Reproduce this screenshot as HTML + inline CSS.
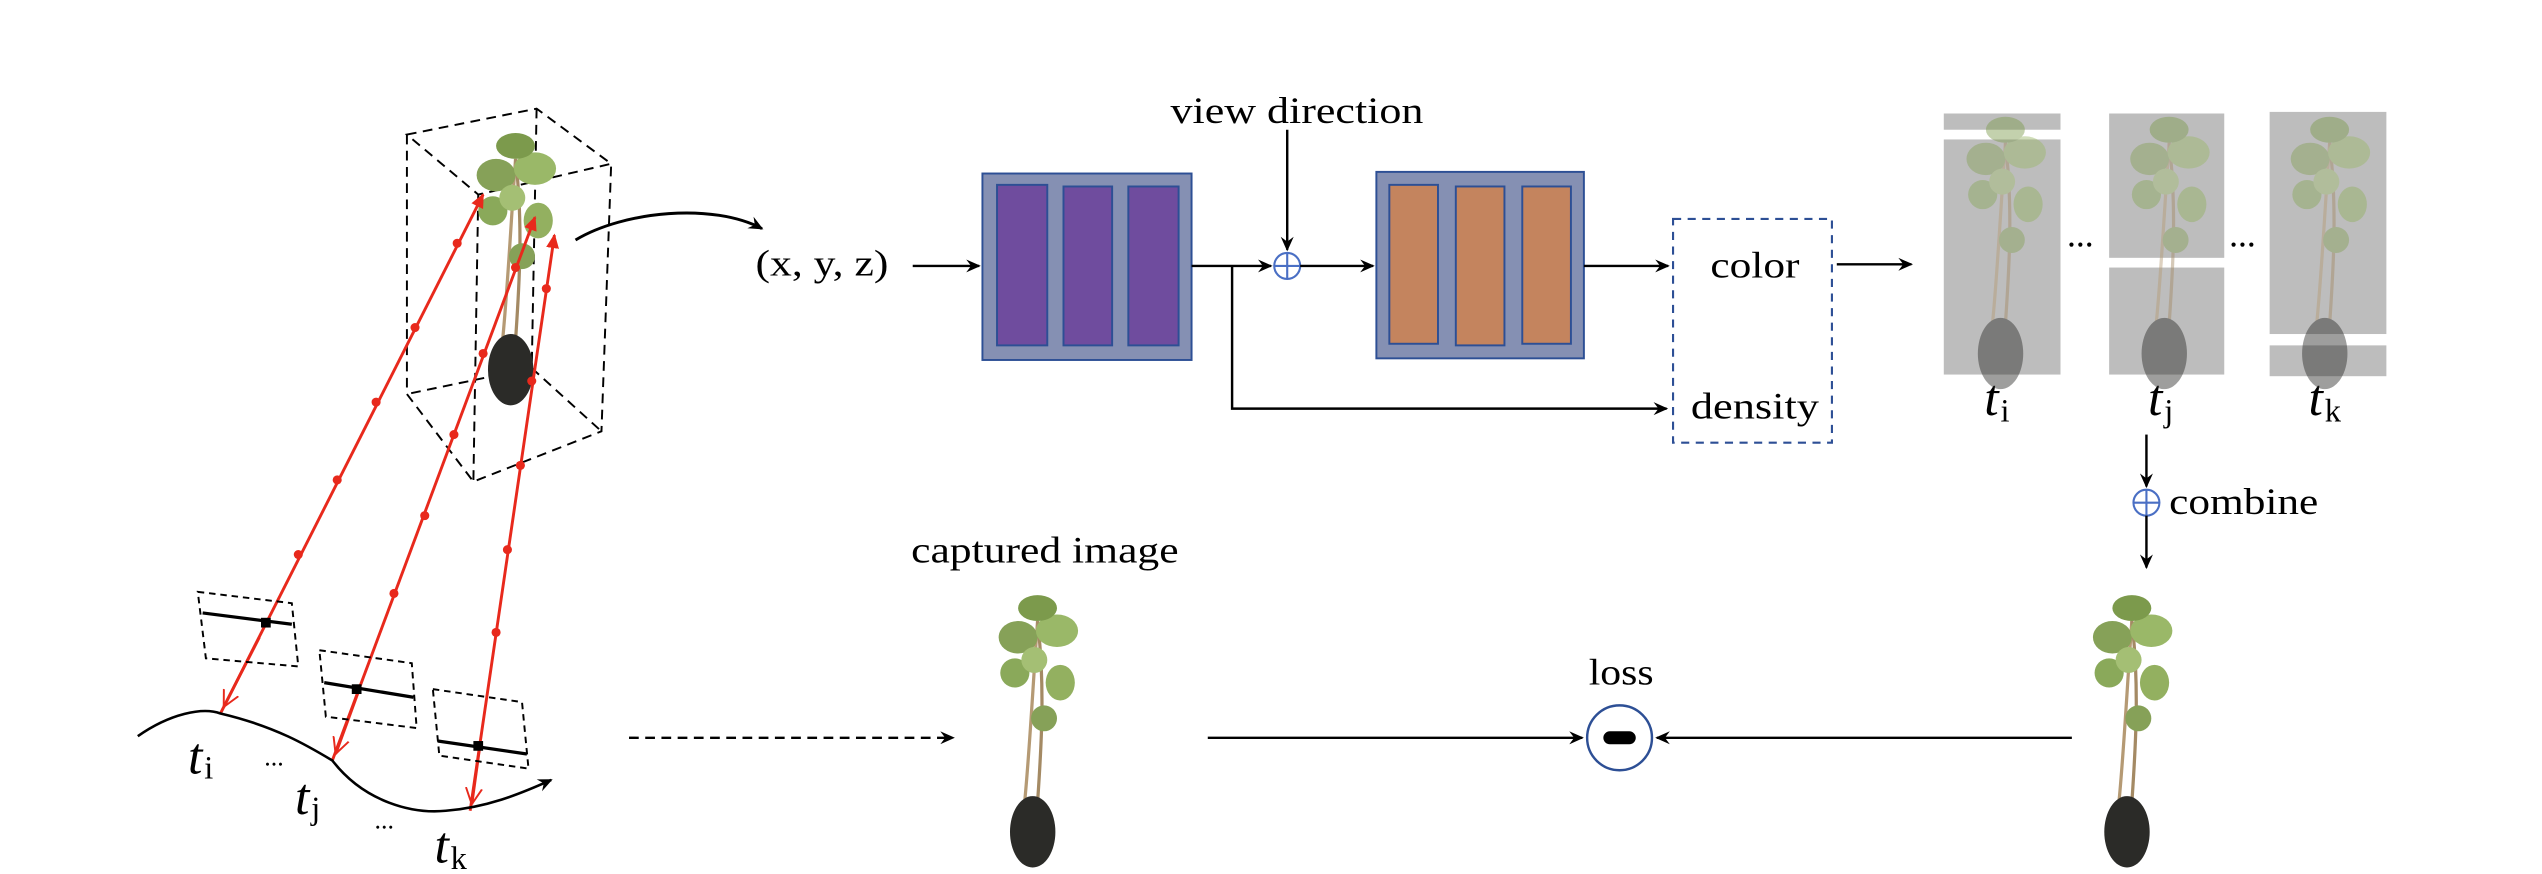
<!DOCTYPE html>
<html><head><meta charset="utf-8"><style>html,body{margin:0;padding:0;background:#fff}svg{display:block}</style></head>
<body>
<svg width="2542" height="874" viewBox="0 0 1568 539" preserveAspectRatio="none" xmlns="http://www.w3.org/2000/svg" font-family="Liberation Serif, serif">
<defs>
<marker id="ah" markerWidth="10" markerHeight="10" refX="8" refY="5" orient="auto" markerUnits="userSpaceOnUse"><path d="M0,1 L9,5 L0,9 L3,5 Z" fill="#000"/></marker>
<marker id="rh" markerWidth="10" markerHeight="10" refX="8" refY="5" orient="auto" markerUnits="userSpaceOnUse"><path d="M0,1 L9,5 L0,9 Z" fill="#e8291c"/></marker>
<marker id="ro" markerWidth="12" markerHeight="12" refX="10" refY="6" orient="auto" markerUnits="userSpaceOnUse"><path d="M0,1 L10,6 L0,11" fill="none" stroke="#e8291c" stroke-width="1.2"/></marker>
<g id="plant">
 <path d="M0,-2 C-3,40 -5,80 -8,110" stroke="#b59a74" stroke-width="2" fill="none"/>
 <path d="M0,-2 C5,40 2,80 0,110" stroke="#a48a64" stroke-width="2" fill="none"/>
 <ellipse cx="-12" cy="8" rx="12" ry="10" fill="#86a158"/>
 <ellipse cx="12" cy="4" rx="13" ry="10" fill="#9ab868"/>
 <ellipse cx="0" cy="-10" rx="12" ry="8" fill="#7c9a4c"/>
 <ellipse cx="-14" cy="30" rx="9" ry="9" fill="#8aa95a"/>
 <ellipse cx="14" cy="36" rx="9" ry="11" fill="#93b060"/>
 <ellipse cx="-2" cy="22" rx="8" ry="8" fill="#a4bf74"/>
 <ellipse cx="4" cy="58" rx="8" ry="8" fill="#86a158"/>
 <ellipse cx="-3" cy="128" rx="14" ry="22" fill="#2b2b28"/>
</g>
</defs>

<!-- cube -->
<g stroke="#000" stroke-width="1.2" stroke-dasharray="6,4" fill="none">
<path d="M251,83 L331,67 L377,101 L295,120 Z"/>
<path d="M251,83 L251,243 L292,297 L371,266 L377,101"/>
<path d="M295,120 L292,297"/>
<path d="M331,67 L328,227 L251,243"/>
<path d="M328,227 L371,266"/>
</g>
<use href="#plant" x="318" y="100"/>

<!-- rays -->
<g stroke="#e8291c" stroke-width="1.8" fill="#e8291c">
<line x1="136" y1="440" x2="298" y2="120" marker-end="url(#rh)"/>
<line x1="205" y1="469" x2="330" y2="134" marker-end="url(#rh)"/>
<line x1="290" y1="500" x2="342" y2="145" marker-end="url(#rh)"/>
</g>
<g stroke="#e8291c" stroke-width="1.8" fill="none">
<line x1="160" y1="393" x2="138" y2="436" marker-end="url(#ro)"/>
<line x1="222" y1="424" x2="207" y2="465" marker-end="url(#ro)"/>
<line x1="296" y1="460" x2="291" y2="496" marker-end="url(#ro)"/>
</g>
<g fill="#e8291c">
<circle cx="282" cy="150" r="2.8"/><circle cx="256" cy="202" r="2.8"/><circle cx="232" cy="248" r="2.8"/><circle cx="208" cy="296" r="2.8"/><circle cx="184" cy="342" r="2.8"/>
<circle cx="318" cy="165" r="2.8"/><circle cx="298" cy="218" r="2.8"/><circle cx="280" cy="268" r="2.8"/><circle cx="262" cy="318" r="2.8"/><circle cx="243" cy="366" r="2.8"/>
<circle cx="337" cy="178" r="2.8"/><circle cx="328" cy="235" r="2.8"/><circle cx="321" cy="287" r="2.8"/><circle cx="313" cy="339" r="2.8"/><circle cx="306" cy="390" r="2.8"/>
</g>

<!-- camera planes -->
<g stroke="#000" stroke-width="1.2" stroke-dasharray="4,3" fill="none">
<path d="M122,365 L180,372 L184,411 L127,406 Z"/>
<path d="M197,401 L254,409 L257,449 L201,442 Z"/>
<path d="M267,425 L322,433 L326,474 L271,466 Z"/>
</g>
<g stroke="#000" stroke-width="2">
<line x1="125" y1="378" x2="180" y2="385"/>
<line x1="200" y1="421" x2="255" y2="430"/>
<line x1="270" y1="457" x2="325" y2="465"/>
</g>
<rect x="161" y="381" width="6" height="6"/><rect x="217" y="422" width="6" height="6"/><rect x="292" y="457" width="6" height="6"/>

<!-- trajectory curve -->
<path d="M85,454 C105,440 125,436 136,440 C170,448 190,460 205,469 C225,495 255,502 275,500 C300,498 320,490 340,481" stroke="#000" stroke-width="1.6" fill="none" marker-end="url(#ah)"/>
<g font-style="italic" font-size="32">
<text x="116" y="477">t</text><text x="182" y="502">t</text><text x="268" y="532">t</text>
<text x="1224" y="256">t</text><text x="1325" y="256">t</text><text x="1424" y="256">t</text>
</g>
<g font-size="20">
<text x="126" y="480">i</text><text x="192" y="505">j</text><text x="278" y="536">k</text>
<text x="1234" y="260">i</text><text x="1335" y="260">j</text><text x="1434" y="260">k</text>
</g>
<text x="163" y="472" font-size="16">...</text>
<text x="231" y="511" font-size="16">...</text>

<!-- curved arrow -->
<path d="M355,148 C385,130 440,125 470,141" stroke="#000" stroke-width="1.8" fill="none" marker-end="url(#ah)"/>

<text x="466" y="170" font-size="23" textLength="82" lengthAdjust="spacingAndGlyphs">(x, y, z)</text>
<line x1="563" y1="164" x2="604" y2="164" stroke="#000" stroke-width="1.5" marker-end="url(#ah)"/>

<!-- purple net -->
<rect x="606" y="107" width="129" height="115" fill="#8590b3" stroke="#2d4f95" stroke-width="1.2"/>
<g fill="#6f4c9e" stroke="#2d4f95" stroke-width="1.2">
<rect x="615" y="114" width="31" height="99"/><rect x="656" y="115" width="30" height="98"/><rect x="696" y="115" width="31" height="98"/>
</g>
<line x1="735" y1="164" x2="784" y2="164" stroke="#000" stroke-width="1.5" marker-end="url(#ah)"/>
<path d="M760,164 L760,252 L1028,252" stroke="#000" stroke-width="1.5" fill="none" marker-end="url(#ah)"/>
<circle cx="794" cy="164" r="8" fill="#fff" stroke="#4a6fc4" stroke-width="1.3"/>
<path d="M786,164 H802 M794,156 V172" stroke="#4a6fc4" stroke-width="1.3"/>
<text x="722" y="76" font-size="23" textLength="156" lengthAdjust="spacingAndGlyphs">view direction</text>
<line x1="794" y1="80" x2="794" y2="154" stroke="#000" stroke-width="1.5" marker-end="url(#ah)"/>
<line x1="802" y1="164" x2="847" y2="164" stroke="#000" stroke-width="1.5" marker-end="url(#ah)"/>

<!-- orange net -->
<rect x="849" y="106" width="128" height="115" fill="#8590b3" stroke="#2d4f95" stroke-width="1.2"/>
<g fill="#c4845e" stroke="#2d4f95" stroke-width="1.2">
<rect x="857" y="114" width="30" height="98"/><rect x="898" y="115" width="30" height="98"/><rect x="939" y="115" width="30" height="97"/>
</g>
<line x1="977" y1="164" x2="1029" y2="164" stroke="#000" stroke-width="1.5" marker-end="url(#ah)"/>
<rect x="1032" y="135" width="98" height="138" fill="none" stroke="#2d4f95" stroke-width="1.3" stroke-dasharray="5,4"/>
<text x="1055" y="171" font-size="23" textLength="55" lengthAdjust="spacingAndGlyphs">color</text>
<text x="1043" y="258" font-size="23" textLength="79" lengthAdjust="spacingAndGlyphs">density</text>
<line x1="1133" y1="163" x2="1179" y2="163" stroke="#000" stroke-width="1.5" marker-end="url(#ah)"/>

<!-- gray panels -->
<g fill="#bdbdbd">
<rect x="1199" y="70" width="72" height="10"/><rect x="1199" y="86" width="72" height="145"/>
<rect x="1301" y="70" width="71" height="89"/><rect x="1301" y="165" width="71" height="66"/>
<rect x="1400" y="69" width="72" height="137"/><rect x="1400" y="213" width="72" height="19"/>
</g>
<g opacity="0.45"><use href="#plant" x="1237" y="90"/><use href="#plant" x="1338" y="90"/><use href="#plant" x="1437" y="90"/></g>
<text x="1275" y="152" font-size="22">...</text>
<text x="1375" y="152" font-size="22">...</text>

<!-- combine -->
<line x1="1324" y1="268" x2="1324" y2="300" stroke="#000" stroke-width="1.5" marker-end="url(#ah)"/>
<circle cx="1324" cy="310" r="8" fill="#fff" stroke="#4a6fc4" stroke-width="1.3"/>
<path d="M1316,310 H1332 M1324,302 V318" stroke="#4a6fc4" stroke-width="1.3"/>
<text x="1338" y="317" font-size="23" textLength="92" lengthAdjust="spacingAndGlyphs">combine</text>
<line x1="1324" y1="318" x2="1324" y2="350" stroke="#000" stroke-width="1.5" marker-end="url(#ah)"/>

<!-- bottom -->
<use href="#plant" x="1315" y="385"/>
<use href="#plant" x="640" y="385"/>
<text x="562" y="347" font-size="23" textLength="165" lengthAdjust="spacingAndGlyphs">captured image</text>
<line x1="388" y1="455" x2="588" y2="455" stroke="#000" stroke-width="1.5" stroke-dasharray="6,4" marker-end="url(#ah)"/>
<line x1="745" y1="455" x2="976" y2="455" stroke="#000" stroke-width="1.5" marker-end="url(#ah)"/>
<line x1="1278" y1="455" x2="1022" y2="455" stroke="#000" stroke-width="1.5" marker-end="url(#ah)"/>
<circle cx="999" cy="455" r="20" fill="#fff" stroke="#2d4f95" stroke-width="1.5"/>
<rect x="989" y="451" width="20" height="8" rx="4" fill="#000"/>
<text x="980" y="422" font-size="23" textLength="40" lengthAdjust="spacingAndGlyphs">loss</text>
</svg>
</body></html>
